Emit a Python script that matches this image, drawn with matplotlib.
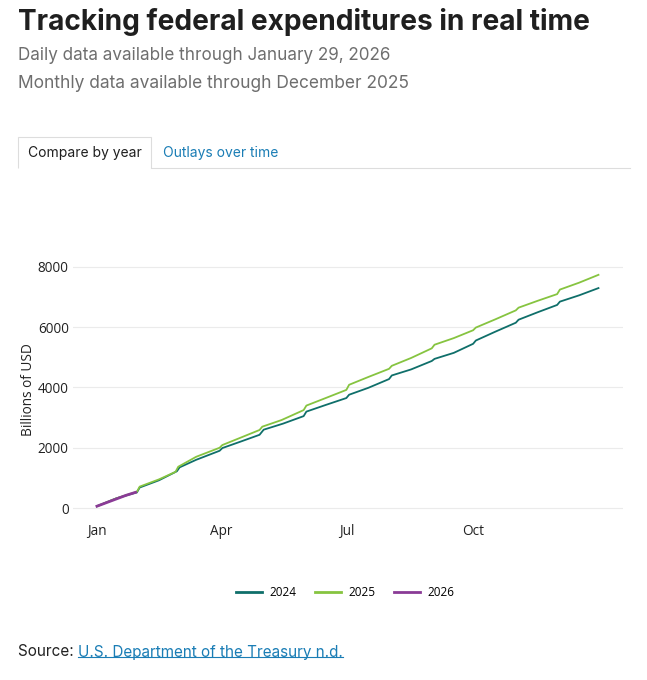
import matplotlib
matplotlib.use('Agg')
import matplotlib.pyplot as plt
from matplotlib.patches import Polygon
from matplotlib.lines import Line2D

# День года и накопленные расходы (млрд USD)
days_2024 = [0, 14, 29, 31, 45, 58, 60, 72, 89, 91, 104, 118, 121, 135, 150, 152, 166, 181,
             183, 197, 212, 214, 228, 243, 245, 259, 273, 275, 289, 304, 306, 320, 334, 336,
             350, 364]
vals_2024 = [60, 320, 520, 680, 920, 1220, 1350, 1600, 1900, 1990, 2200, 2430, 2600, 2800,
             3050, 3200, 3420, 3650, 3760, 3990, 4280, 4400, 4600, 4880, 4950, 5150, 5450,
             5560, 5850, 6150, 6250, 6500, 6740, 6850, 7060, 7300]

days_2025 = [0, 14, 29, 31, 45, 57, 59, 72, 89, 91, 104, 118, 120, 134, 150, 152, 166, 181,
             183, 197, 212, 214, 228, 243, 245, 259, 273, 275, 289, 304, 306, 320, 334, 336,
             350, 364]
vals_2025 = [60, 320, 540, 710, 950, 1200, 1370, 1700, 2000, 2090, 2330, 2590, 2700, 2920,
             3250, 3400, 3650, 3920, 4090, 4350, 4620, 4720, 4980, 5300, 5420, 5640, 5900,
             5990, 6260, 6560, 6650, 6880, 7100, 7250, 7480, 7740]

days_2026 = [0, 7, 14, 21, 28]
vals_2026 = [60, 180, 300, 420, 520]

series_names = ['2024', '2025', '2026']
series_colors = ['#0f6f6a', '#86c440', '#8a3b96']

month_ticks = [0, 90, 181, 273]
month_labels = ['Jan', 'Apr', 'Jul', 'Oct']
y_ticks = [0, 2000, 4000, 6000, 8000]

W, H = 647, 680
fig = plt.figure(figsize=(W / 100, H / 100), dpi=100)


def fx(px):
    return px / W


def fy(py):
    return 1 - py / H


# Заголовки
fig.text(fx(18), fy(22), 'Tracking federal expenditures in real time', fontsize=20.2,
         fontweight='bold', family='Inter', color='#1f1f1f', va='center', ha='left')
fig.text(fx(18), fy(55), 'Daily data available through January 29, 2026', fontsize=12.3,
         family='Inter', color='#6e6e6e', va='center', ha='left')
fig.text(fx(18), fy(84), 'Monthly data available through December 2025', fontsize=12.5,
         family='Inter', color='#6e6e6e', va='center', ha='left')

# Вкладки
tab = Polygon([(fx(18), fy(168)), (fx(18), fy(137)), (fx(151), fy(137)), (fx(151), fy(168))],
              closed=False, fill=False, edgecolor='#dddddd', lw=0.8, transform=fig.transFigure)
fig.add_artist(tab)
fig.add_artist(Line2D([fx(151), fx(630)], [fy(168), fy(168)], color='#dddddd', lw=0.8,
                      transform=fig.transFigure))
fig.text(fx(84.5), fy(153), 'Compare by year', fontsize=10, family='Inter', color='#1f1f1f',
         ha='center', va='center')
fig.text(fx(163), fy(153), 'Outlays over time', fontsize=10, family='Inter', color='#1a7db5',
         ha='left', va='center')

# График
ax = fig.add_axes([fx(73), fy(520), fx(550), 260 / H])
ax.plot(days_2024, vals_2024, color=series_colors[0], lw=1.3, label=series_names[0])
ax.plot(days_2025, vals_2025, color=series_colors[1], lw=1.3, label=series_names[1])
ax.plot(days_2026, vals_2026, color=series_colors[2], lw=2.0, label=series_names[2])

ax.set_xlim(-17.4, 381.8)
ax.set_ylim(-398, 8232)
ax.set_xticks(month_ticks)
ax.set_xticklabels(month_labels, family='Open Sans')
ax.set_yticks(y_ticks)
ax.set_yticklabels([str(v) for v in y_ticks], family='Open Sans')
ax.grid(axis='y', color='#ebebeb', lw=0.8)
ax.set_axisbelow(True)
for s in ax.spines.values():
    s.set_visible(False)
ax.tick_params(length=0, labelsize=9.8, colors='#222222')
ax.tick_params(axis='y', pad=3)
ax.tick_params(axis='x', pad=3)
ax.set_ylabel('Billions of USD', fontsize=9.8, color='#222222', labelpad=1, family='Open Sans')

leg = ax.legend(loc='center', bbox_to_anchor=(fx(345), fy(593)), bbox_transform=fig.transFigure,
                ncol=3, frameon=False, prop={'family': 'Open Sans', 'size': 8.5},
                handlelength=2.2, columnspacing=1.6, handletextpad=0.6)
for h in leg.get_lines():
    h.set_linewidth(2)

# Источник
src = fig.text(fx(18), fy(652), 'Source: ', fontsize=11, family='Inter', color='#222222',
               ha='left', va='center')
fig.canvas.draw()
r = fig.canvas.get_renderer()
bb = src.get_window_extent(r)
link = fig.text(bb.x1 / W, fy(652), 'U.S. Department of the Treasury n.d.', fontsize=11,
                family='Inter', color='#1a7db5', ha='left', va='center')
lb = link.get_window_extent(r)
fig.add_artist(Line2D([lb.x0 / W, lb.x1 / W], [(lb.y0 + 2.5) / H, (lb.y0 + 2.5) / H],
                      color='#1a7db5', lw=0.8, transform=fig.transFigure))

fig.savefig('out.png', dpi=100)
